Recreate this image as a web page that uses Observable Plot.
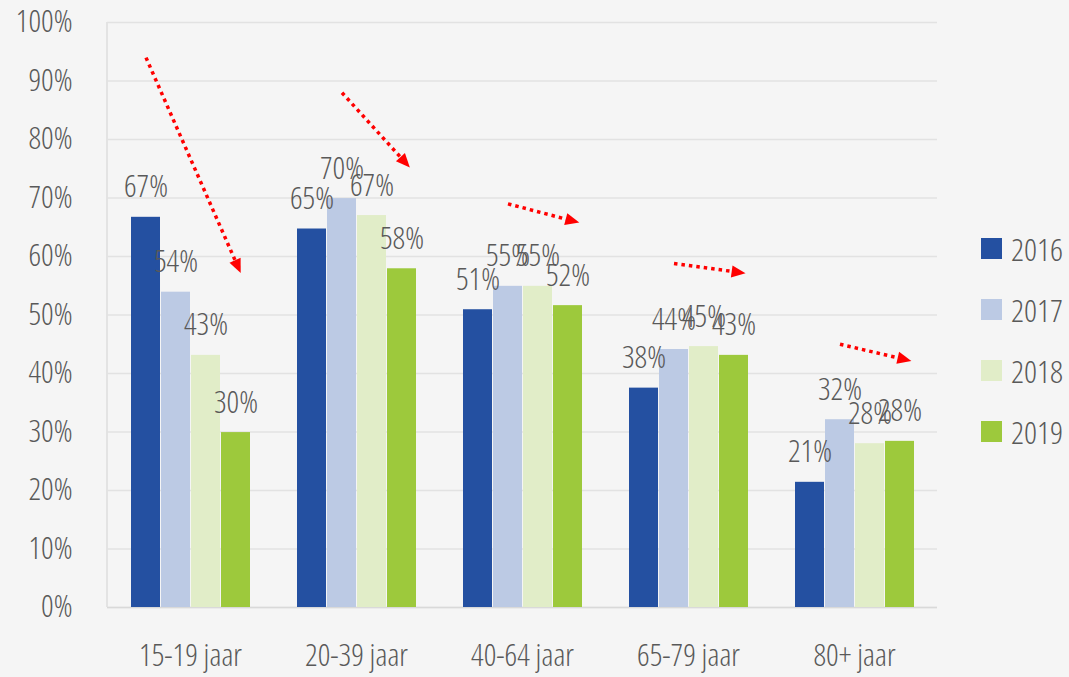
<!DOCTYPE html>
<html>
<head>
<meta charset="utf-8">
<script src="https://cdn.jsdelivr.net/npm/d3@7"></script>
<script src="https://cdn.jsdelivr.net/npm/@observablehq/plot@0.6"></script>
<style>
  html, body { margin: 0; padding: 0; background: #f5f5f5; }
  #chart { position: relative; width: 1069px; height: 677px; background: #f5f5f5; overflow: hidden; }
  #chart svg { position: absolute; left: 0; top: 0; font-family: "Open Sans", sans-serif; font-stretch: 75%; font-weight: 300; }
  .legend { position: absolute; left: 981px; top: 218px; font-family: "Open Sans", sans-serif; font-stretch: 75%; font-weight: 300; color: #595959; }
  .legend .item { display: flex; align-items: center; height: 61px; }
  .legend .sw { width: 21px; height: 21px; margin-right: 9px; }
  .legend .lb { font-size: 32px; line-height: 32px; }
</style>
</head>
<body>
<div id="chart"></div>
<script>
const categories = ["15-19 jaar", "20-39 jaar", "40-64 jaar", "65-79 jaar", "80+ jaar"];
const years = ["2016", "2017", "2018", "2019"];
const colors = ["#2450a1", "#bccae4", "#e1edc8", "#9dc93c"];
const v2016 = [66.7, 64.7, 50.9, 37.5, 21.4];
const v2017 = [53.9, 69.9, 54.9, 44.1, 32.1];
const v2018 = [43.1, 67.0, 54.9, 44.6, 28.0];
const v2019 = [29.9, 57.9, 51.6, 43.1, 28.4];
const yTicks = [0, 10, 20, 30, 40, 50, 60, 70, 80, 90, 100];

// red dotted trend arrows (annotation)
const arrowFromYear = ["2016", "2017", "2017", "2017", "2017"];
const arrowToYear = ["2019", "2019", "2019", "2019", "2019"];
const arrowFrom = [94, 88, 69, 58.8, 45];
const arrowTo = [59, 76.7, 66.3, 57.4, 42.6];

const series = [v2016, v2017, v2018, v2019];
const rows = categories.flatMap((c, i) => years.map((yr, j) => ({cat: c, year: yr, value: series[j][i]})));
const arrows = categories.map((c, i) => ({cat: c, x1: arrowFromYear[i], x2: arrowToYear[i], y1: arrowFrom[i], y2: arrowTo[i]}));

const W = 1069, H = 677, mL = 107, mR = 132, mT = 22, mB = 70;
const textColor = "#595959";

const plot = Plot.plot({
  width: W, height: H,
  marginLeft: mL, marginRight: mR, marginTop: mT, marginBottom: mB,
  style: {background: "transparent", fontFamily: "'Open Sans', sans-serif", overflow: "visible"},
  fx: {domain: categories, padding: 0, label: null},
  x: {domain: years, paddingInner: 0.04, paddingOuter: 0.75, axis: null},
  y: {domain: [0, 100], label: null},
  color: {domain: years, range: colors},
  marks: [
    Plot.gridY(yTicks, {stroke: "#e2e2e2", strokeOpacity: 1, strokeWidth: 1.5}),
    Plot.ruleY([0], {stroke: "#d9d9d9", strokeWidth: 1.5}),
    Plot.axisY(yTicks, {tickSize: 0, tickPadding: 35, fontSize: 31, fill: textColor, tickFormat: d => d + "%", label: null}),
    Plot.axisFx({anchor: "bottom", tickSize: 0, tickPadding: 36, fontSize: 31, fill: textColor, label: null}),
    Plot.barY(rows, {fx: "cat", x: "year", y: "value", fill: "year"}),
    Plot.text(rows, {fx: "cat", x: "year", y: "value", text: d => Math.round(d.value) + "%", dy: -20, lineAnchor: "bottom", fontSize: 31, fill: textColor}),
    Plot.link(arrows, {fx: "cat", x1: "x1", x2: "x2", y1: "y1", y2: "y2", stroke: "#ff0000", strokeWidth: 3.5, strokeDasharray: "3.5,4", markerEnd: "arrow"})
  ]
});

// filled arrowheads
d3.select(plot).selectAll("marker")
  .attr("overflow", "visible")
  .selectAll("path")
  .attr("d", "M-1,-2.6L5,0L-1,2.6Z")
  .attr("fill", "#ff0000")
  .attr("stroke", "none")
  .attr("stroke-dasharray", null);

// left axis line
const ys = plot.scale("y");
d3.select(plot).insert("line", ":first-child")
  .attr("x1", mL).attr("x2", mL)
  .attr("y1", ys.apply(100)).attr("y2", ys.apply(0))
  .attr("stroke", "#dcdcdc").attr("stroke-width", 1.5);

const chart = document.getElementById("chart");
chart.appendChild(plot);

const legend = document.createElement("div");
legend.className = "legend";
years.forEach((yr, j) => {
  const it = document.createElement("div");
  it.className = "item";
  const sw = document.createElement("div");
  sw.className = "sw";
  sw.style.background = colors[j];
  const lb = document.createElement("div");
  lb.className = "lb";
  lb.textContent = yr;
  it.appendChild(sw); it.appendChild(lb);
  legend.appendChild(it);
});
chart.appendChild(legend);
</script>
</body>
</html>
